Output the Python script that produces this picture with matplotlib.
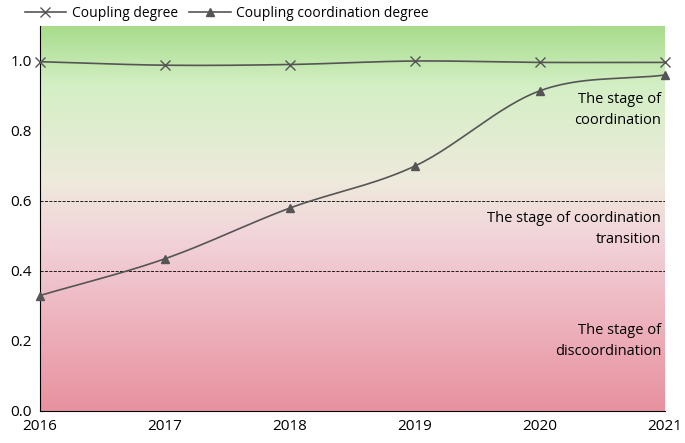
import matplotlib

matplotlib.use("Agg")
import matplotlib.pyplot as plt
import numpy as np
from matplotlib.colors import LinearSegmentedColormap

years = [2016, 2017, 2018, 2019, 2020, 2021]
coupling = [0.998, 0.988, 0.990, 1.000, 0.996, 0.996]
coordination = [0.330, 0.435, 0.580, 0.700, 0.915, 0.960]
stage_lines = [0.4, 0.6]
stage_labels = [
    (2020.97, 0.86, "The stage of\ncoordination"),
    (2020.97, 0.52, "The stage of coordination\ntransition"),
    (2020.97, 0.20, "The stage of\ndiscoordination"),
]


def smooth(x, y, n=30):
    # Catmull-Rom spline through the points
    x = np.asarray(x, float)
    y = np.asarray(y, float)
    px = np.concatenate([[2 * x[0] - x[1]], x, [2 * x[-1] - x[-2]]])
    py = np.concatenate([[2 * y[0] - y[1]], y, [2 * y[-1] - y[-2]]])
    xs, ys = [], []
    t = np.linspace(0, 1, n)
    for i in range(1, len(px) - 2):
        for p, out in ((px, xs), (py, ys)):
            p0, p1, p2, p3 = p[i - 1], p[i], p[i + 1], p[i + 2]
            out.append(0.5 * (2 * p1 + (-p0 + p2) * t
                              + (2 * p0 - 5 * p1 + 4 * p2 - p3) * t ** 2
                              + (-p0 + 3 * p1 - 3 * p2 + p3) * t ** 3))
    return np.concatenate(xs), np.concatenate(ys)


plt.rcParams["font.family"] = "Open Sans"
fig = plt.figure(figsize=(6.85, 4.43), dpi=100)
ax = fig.add_axes([40 / 685, 32 / 443, 625 / 685, 385 / 443])

cmap = LinearSegmentedColormap.from_list(
    "bg", [(0, "#e8919f"), (0.45, "#f2d3da"), (0.6, "#eeeadc"), (0.85, "#d3efc4"), (1, "#a8dc8c")]
)
grad = np.linspace(0, 1, 256).reshape(-1, 1)
ax.imshow(grad, cmap=cmap, origin="lower", aspect="auto",
          extent=[2016, 2021, 0, 1.1], zorder=0)

for v in stage_lines:
    ax.axhline(v, color="black", linestyle="--", linewidth=0.6, zorder=1)

sx, sy = smooth(years, coupling)
ax.plot(sx, sy, color="#555555", linewidth=1.2, zorder=2)
ax.plot(years, coupling, linestyle="none", marker="x", color="#555555",
        markersize=7, zorder=3, clip_on=False)
sx, sy = smooth(years, coordination)
ax.plot(sx, sy, color="#555555", linewidth=1.2, zorder=2)
ax.plot(years, coordination, linestyle="none", marker="^", color="#555555",
        markersize=6, zorder=3, clip_on=False)

for x, y, s in stage_labels:
    ax.text(x, y, s, ha="right", va="center", fontsize=10.5, linespacing=1.5)

ax.set_xlim(2016, 2021)
ax.set_ylim(0, 1.1)
ax.set_xticks(years)
ax.set_yticks(np.arange(0, 1.01, 0.2))
ax.set_yticklabels([f"{v:.1f}" for v in np.arange(0, 1.01, 0.2)])
ax.tick_params(labelsize=11, length=0, pad=6)
for s in ["top", "right"]:
    ax.spines[s].set_visible(False)

h1, = ax.plot([], [], color="#555555", marker="x", markersize=7, linewidth=1.2)
h2, = ax.plot([], [], color="#555555", marker="^", markersize=6, linewidth=1.2)
fig.legend([h1, h2], ["Coupling degree", "Coupling coordination degree"],
           loc="upper left", bbox_to_anchor=(12 / 685, 1.015), ncol=2, frameon=False,
           fontsize=10, handlelength=3, columnspacing=0.8, handletextpad=0.4)

fig.savefig("out.png", dpi=100)
